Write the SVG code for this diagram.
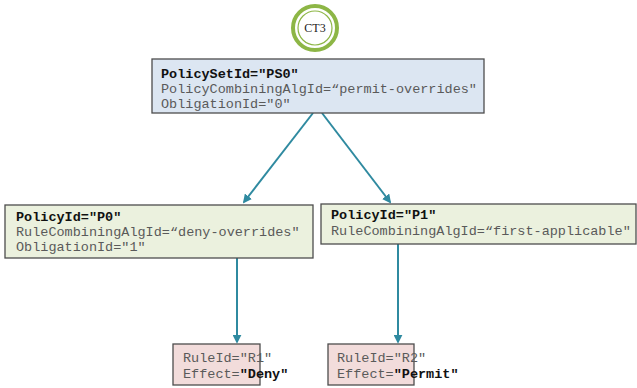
<svg xmlns="http://www.w3.org/2000/svg" width="637" height="388" viewBox="0 0 637 388">
<style>
.box{stroke:#4d4d4d;stroke-width:1.3}
.t{font-family:"Liberation Mono","Courier New",monospace;font-size:13.5px;fill:#5a5a5a}
.b{font-weight:bold;fill:#111}
.edge{stroke:#2f8aa0;stroke-width:2;fill:none;marker-end:url(#ah)}
</style>
<defs>
<marker id="ah" viewBox="0 0 10 10" refX="8" refY="5" markerWidth="4.5" markerHeight="4.5" orient="auto" markerUnits="strokeWidth">
<path d="M0,0 L10,5 L0,10 Z" fill="#2f8aa0"/>
</marker>
</defs>
<rect width="637" height="388" fill="#fff"/>
<g id="ct3">
<circle cx="315" cy="28" r="22" fill="#fff" stroke="#8db646" stroke-width="4"/>
<circle cx="315" cy="28" r="17" fill="#fff" stroke="#8db646" stroke-width="1.2"/>
<text x="315" y="32" text-anchor="middle" font-family="Liberation Serif,Times New Roman,serif" font-size="12" fill="#222">CT3</text>
</g>
<g id="connectors">
<line class="edge" x1="313" y1="113" x2="244" y2="202"/>
<line class="edge" x1="322" y1="113" x2="390" y2="202"/>
<line class="edge" x1="237" y1="258" x2="237" y2="342"/>
<line class="edge" x1="398" y1="244" x2="398" y2="342"/>
</g>
<g id="PS0">
<rect class="box" x="152" y="59" width="332" height="54" fill="#dce6f2"/>
<text class="t" x="161" y="78"><tspan class="b">PolicySetId="PS0"</tspan></text>
<text class="t" x="161" y="93">PolicyCombiningAlgId=“permit-overrides"</text>
<text class="t" x="161" y="108">ObligationId="0"</text>
</g>
<g id="P0">
<rect class="box" x="5" y="205" width="308" height="53" fill="#ebf1de"/>
<text class="t" x="16" y="221"><tspan class="b">PolicyId="P0"</tspan></text>
<text class="t" x="16" y="236">RuleCombiningAlgId=“deny-overrides"</text>
<text class="t" x="16" y="251">ObligationId="1"</text>
</g>
<g id="P1">
<rect class="box" x="321" y="204" width="315" height="40" fill="#ebf1de"/>
<text class="t" x="331" y="219"><tspan class="b">PolicyId="P1"</tspan></text>
<text class="t" x="331" y="235">RuleCombiningAlgId=“first-applicable"</text>
</g>
<g id="R1">
<rect class="box" x="173" y="344" width="87" height="41" fill="#f2dcdb"/>
<text class="t" x="183" y="362">RuleId="R1"</text>
<text class="t" x="183" y="378">Effect=<tspan class="b">"Deny"</tspan></text>
</g>
<g id="R2">
<rect class="box" x="328" y="344" width="86" height="41" fill="#f2dcdb"/>
<text class="t" x="337" y="362">RuleId="R2"</text>
<text class="t" x="337" y="378">Effect=<tspan class="b">"Permit"</tspan></text>
</g>
</svg>
